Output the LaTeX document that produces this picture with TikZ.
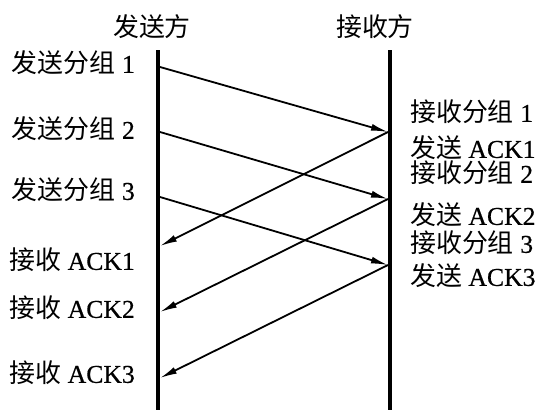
\documentclass[tikz,border=0pt]{standalone}
\usepackage{fontspec}
\setmainfont{Liberation Serif}[Scale=1.07,FakeBold=0.6]
\newfontfamily\cjk{Noto Sans CJK SC}[Scale=1.08]
\usetikzlibrary{arrows.meta}
\begin{document}
\begin{tikzpicture}[x=1pt,y=-1pt,
  lbl/.style={font=\fontsize{24}{28}\selectfont, inner sep=0pt},
  life/.style={line width=4.5pt},
  msg/.style={line width=1.8pt,-{Latex[length=17pt,width=7pt]}}]
\useasboundingbox (0,0) rectangle (538,410);
% lifelines
\coordinate (Lt) at (158,50); \coordinate (Lb) at (158,410);
\coordinate (Rt) at (390,50); \coordinate (Rb) at (390,410);
\draw[life] (Lt) -- (Lb);
\draw[life] (Rt) -- (Rb);
% headers
\node[lbl] (hs) at (152,27) {\cjk 发送方};
\node[lbl] (hr) at (375,27) {\cjk 接收方};
% message endpoints
\coordinate (s1) at (160,67);  \coordinate (r1) at (388,132);
\coordinate (s2) at (160,132); \coordinate (r2) at (388,199);
\coordinate (s3) at (160,197); \coordinate (r3) at (388,265);
\coordinate (a1) at (160,246); \coordinate (a2) at (160,312); \coordinate (a3) at (160,378);
\draw[msg] (s1) -- (r1);
\draw[msg] (s2) -- (r2);
\draw[msg] (s3) -- (r3);
\draw[msg] (r1) -- (a1);
\draw[msg] (r2) -- (a2);
\draw[msg] (r3) -- (a3);
% left labels
\node[lbl,anchor=east] (ls1) at (135,63)  {{\cjk 发送分组} 1};
\node[lbl,anchor=east] (ls2) at (135,129) {{\cjk 发送分组} 2};
\node[lbl,anchor=east] (ls3) at (135,190) {{\cjk 发送分组} 3};
\node[lbl,anchor=east] (la1) at (135,260) {{\cjk 接收} ACK1};
\node[lbl,anchor=east] (la2) at (135,308) {{\cjk 接收} ACK2};
\node[lbl,anchor=east] (la3) at (135,373) {{\cjk 接收} ACK3};
% right labels
\node[lbl,anchor=west] (rr1) at (410,112) {{\cjk 接收分组} 1};
\node[lbl,anchor=west] (rs1) at (410,148) {{\cjk 发送} ACK1};
\node[lbl,anchor=west] (rr2) at (410,173) {{\cjk 接收分组} 2};
\node[lbl,anchor=west] (rs2) at (410,215) {{\cjk 发送} ACK2};
\node[lbl,anchor=west] (rr3) at (410,243) {{\cjk 接收分组} 3};
\node[lbl,anchor=west] (rs3) at (410,276) {{\cjk 发送} ACK3};
\end{tikzpicture}
\end{document}
